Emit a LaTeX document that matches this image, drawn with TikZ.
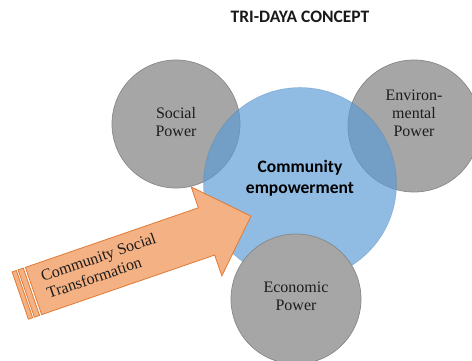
\documentclass[tikz,border=0pt]{standalone}
\usepackage{fontspec}
\setmainfont{Liberation Serif}
\newfontfamily\calibrifont{Carlito}
\usetikzlibrary{positioning}

\definecolor{ballgray}{HTML}{A6A6A6}
\definecolor{balledge}{HTML}{878787}
\definecolor{coreblue}{HTML}{5B9BD5}
\definecolor{arrowfill}{HTML}{F4B183}
\definecolor{arrowedge}{HTML}{E07A35}
\definecolor{inkgray}{HTML}{1C1C1C}

\tikzset{
  grayball/.style={circle, fill=ballgray, draw=balledge, line width=0.7pt, inner sep=0pt},
  coreball/.style={circle, fill=coreblue, fill opacity=0.68, draw=coreblue!80!black, draw opacity=0.35, line width=0.6pt, inner sep=0pt},
  serifnote/.style={align=center, text=inkgray, font=\fontsize{16}{18}\selectfont, inner sep=0pt},
  boldnote/.style={align=center, text=black, font=\calibrifont\bfseries\fontsize{17.5}{21}\selectfont, inner sep=0pt},
  arrowbody/.style={fill=arrowfill, draw=arrowedge, line width=0.8pt, line join=miter},
}

\begin{document}
\begin{tikzpicture}[x=1pt, y=-1pt]

     \clip (0,0) rectangle (472,361);

     % title
     \node[font=\calibrifont\bfseries\fontsize{17.5}{21}\selectfont, text=black!90] (title) at (300,16.5) {TRI-DAYA CONCEPT};

     % circles
     \node[grayball, minimum size=128pt] (social) at (176,124) {};
     \node[grayball, minimum size=132pt] (env) at (414,126) {};
     \node[coreball, minimum size=193pt] (core) at (300,184) {};
     \node[grayball, minimum size=130pt] (econ) at (296,299) {};

     % arrow
     \begin{scope}[shift={(33.5,291)}, rotate=19]
       \draw[arrowbody] (0,-25) -- (183,-25) -- (183,-47) -- (230,0) -- (183,47) -- (183,25) -- (0,25) -- cycle;
       \draw[arrowbody] (-7.7,-25) rectangle (-2.2,25);
       \draw[arrowbody] (-14,-25) rectangle (-9.5,25);
       \node[serifnote, align=left, anchor=west, rotate=19] (cst) at (12,-2) {Community Social\\Transformation};
     \end{scope}

     % text
     \node[serifnote] (socialtext) at ([yshift=2pt]social.center) {Social\\Power};
     \node[serifnote] (envtext) at ([yshift=12.5pt]env.center) {Environ-\\mental\\Power};
     \node[serifnote] (econtext) at ([yshift=2.5pt]econ.center) {Economic\\Power};
     \node[boldnote] (coretext) at ([yshift=6pt]core.center) {Community\\empowerment};

\end{tikzpicture}
\end{document}
